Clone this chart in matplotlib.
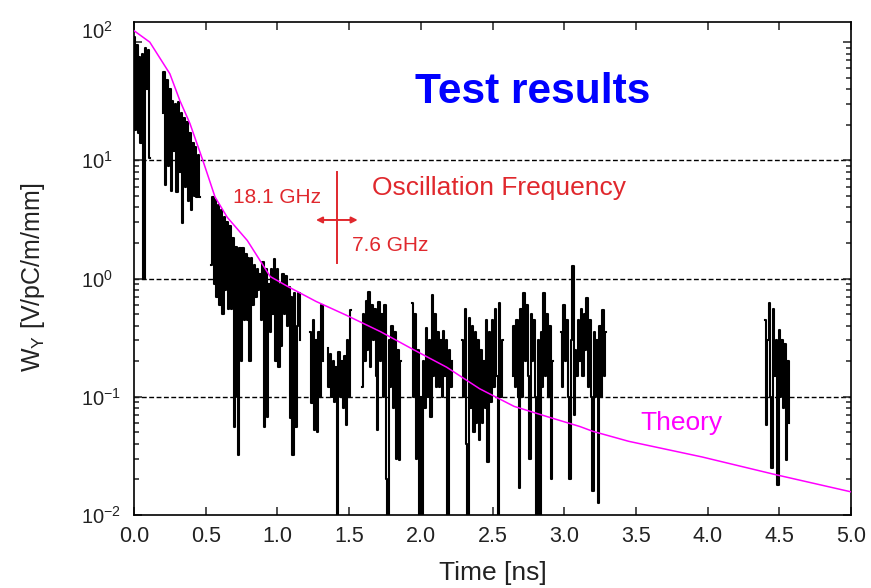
import numpy as np
import matplotlib
matplotlib.use("Agg")
import matplotlib.pyplot as plt
from matplotlib.ticker import FixedLocator, LogLocator, NullFormatter, FixedFormatter
from matplotlib.transforms import ScaledTranslation

plt.rcParams['font.family'] = ['Liberation Sans', 'DejaVu Sans']
plt.rcParams['mathtext.fontset'] = 'custom'
plt.rcParams['mathtext.rm'] = 'Liberation Sans'
plt.rcParams['mathtext.it'] = 'Liberation Sans:italic'
plt.rcParams['mathtext.default'] = 'regular'

# measured wake, sampled every 10 ps; each burst is a run of positive samples
DT = 0.01
burst_a_t0 = 0.00
burst_a = [110, 18, 95, 17, 75, 14, 80, 1.0, 90, 40, 85, 10.5]
burst_b_t0 = 0.20
burst_b = [25, 56, 6.2, 48, 9, 40, 5.5, 32, 12, 30, 5.4, 31, 8, 25, 2.95, 23, 6,
           21, 4.5, 17, 3.8, 14, 5, 13, 4.9, 11, 4.9]
burst_c_t0 = 0.54
burst_c = [1.3, 4.9, 0.9, 4.6, 0.7, 4.2, 0.6, 3.8, 0.5, 3.3, 0.8, 3.0, 0.55, 2.8,
           0.55, 2.2, 0.056, 1.85, 0.1, 0.032, 1.8, 0.2, 1.8, 0.45, 1.6, 0.45, 1.5,
           0.2, 1.5, 0.6, 1.3, 0.7, 1.2, 0.8, 1.1, 0.45, 1.37, 0.056, 1.2, 0.067,
           0.9, 0.35, 1.2, 0.5, 1.45, 0.2, 1.2, 0.18, 0.9, 0.27, 1.1, 0.5, 1.05,
           0.4, 0.85, 0.066, 0.7, 0.032, 0.75, 0.055, 0.4, 0.75, 0.3]
burst_d_t0 = 1.23
burst_d = [0.35, 0.088, 0.45, 0.052, 0.3, 0.05, 0.35, 0.1, 0.6, 0.2]
burst_e_t0 = 1.35
burst_e = [0.26, 0.12, 0.23, 0.1, 0.2, 0.09, 0.18, 0.005, 0.24, 0.1, 0.2, 0.08,
           0.22, 0.058, 0.3, 0.1, 0.54]
burst_f_t0 = 1.59
burst_f = [0.12, 0.5, 0.2, 0.65, 0.25, 0.77, 0.18, 0.6, 0.3, 0.55, 0.15, 0.052,
           0.63, 0.2, 0.5, 0.1, 0.6, 0.02, 0.005, 0.3, 0.12, 0.4, 0.08, 0.35,
           0.03, 0.25, 0.029, 0.2]
burst_g_t0 = 1.94
burst_g = [0.62, 0.1, 0.5, 0.03, 0.25, 0.005, 0.1, 0.006, 0.2, 0.08, 0.38, 0.1,
           0.3, 0.067, 0.72, 0.15, 0.5, 0.12, 0.35, 0.12, 0.3, 0.1, 0.36, 0.15,
           0.3, 0.005, 0.25, 0.12, 0.2]
burst_h_t0 = 2.29
burst_h = [0.3, 0.1, 0.55, 0.04, 0.005, 0.46, 0.08, 0.4, 0.05, 0.35, 0.06, 0.3,
           0.043, 0.25, 0.06, 0.2, 0.08, 0.45, 0.028, 0.35, 0.09, 0.45, 0.12,
           0.55, 0.15, 0.005, 0.62, 0.1, 0.3]
burst_i_t0 = 2.64
burst_i = [0.15, 0.4, 0.12, 0.45, 0.1, 0.017, 0.55, 0.1, 0.75, 0.2, 0.6, 0.15,
           0.03, 0.5, 0.2, 0.45, 0.1, 0.005, 0.3, 0.006, 0.35, 0.12, 0.75, 0.15,
           0.5, 0.1, 0.4, 0.02, 0.2]
burst_j_t0 = 2.98
burst_j = [0.35, 0.12, 0.6, 0.2, 0.45, 0.1, 0.02, 0.3, 1.27, 0.07, 0.25, 0.15,
           0.45, 0.2, 0.55, 0.15, 0.5, 0.25, 0.68, 0.12, 0.45, 0.1, 0.016, 0.35,
           0.1, 0.3, 0.0126, 0.4, 0.1, 0.54, 0.15, 0.35]
burst_k_t0 = 4.40
burst_k = [0.45, 0.058, 0.3, 0.62, 0.1, 0.025, 0.55, 0.15, 0.3, 0.018, 0.37, 0.1,
           0.3, 0.08, 0.28, 0.029, 0.2, 0.06]

bursts = [(burst_a_t0, burst_a), (burst_b_t0, burst_b), (burst_c_t0, burst_c),
          (burst_d_t0, burst_d), (burst_e_t0, burst_e), (burst_f_t0, burst_f),
          (burst_g_t0, burst_g), (burst_h_t0, burst_h), (burst_i_t0, burst_i),
          (burst_j_t0, burst_j), (burst_k_t0, burst_k)]

# analytic wake
theory_t = [0.0, 0.11, 0.25, 0.32, 0.39, 0.48, 0.565, 0.65, 0.79, 0.95, 1.07,
            1.27, 1.48, 1.72, 1.95, 2.18, 2.41, 2.65, 2.88, 3.11, 3.20, 3.45,
            3.96, 4.47, 5.0]
theory_w = [125, 100, 54, 32, 20.5, 10, 4.9, 3.3, 2.1, 1.04, 0.86, 0.64, 0.49,
            0.355, 0.25, 0.178, 0.117, 0.083, 0.068, 0.056, 0.051, 0.042, 0.031,
            0.022, 0.0157]

grid_levels = [10, 1, 0.1]
x_ticks = [0.0, 0.5, 1.0, 1.5, 2.0, 2.5, 3.0, 3.5, 4.0, 4.5, 5.0]
x_ticklabels = ['0.0', '0.5', '1.0', '1.5', '2.0', '2.5', '3.0', '3.5', '4.0', '4.5', '5.0']
y_ticks = [1e-2, 1e-1, 1e0, 1e1, 1e2]
y_ticklabels = [r'$10^{-2}$', r'$10^{-1}$', r'$10^{0}$', r'$10^{1}$', r'$10^{2}$']

RED = '#e0282d'
MAGENTA = '#ff00ff'

fig = plt.figure(figsize=(8.71, 5.88), dpi=100)
ax = fig.add_axes([134 / 871, 1 - 515 / 588, 717 / 871, 493 / 588])
ax.set_yscale('log')
ax.set_xlim(0, 5.0)
ax.set_ylim(1e-2, 148)

for lvl in grid_levels:
    ax.axhline(lvl, color='black', lw=1.0, ls=(0, (3.5, 1.8)), zorder=1)

for t0, vals in bursts:
    t = t0 + DT * np.arange(len(vals))
    ax.plot(t, vals, drawstyle='steps-mid', color='black', lw=1.5, zorder=2)

ax.plot(theory_t, theory_w, color=MAGENTA, lw=1.1, zorder=3)

# axes styling
for sp in ax.spines.values():
    sp.set_linewidth(1.2)
ax.xaxis.set_major_locator(FixedLocator(x_ticks))
ax.xaxis.set_major_formatter(FixedFormatter(x_ticklabels))
ax.xaxis.set_minor_locator(FixedLocator([]))
ax.yaxis.set_major_locator(FixedLocator(y_ticks))
ax.yaxis.set_major_formatter(FixedFormatter(y_ticklabels))
ax.yaxis.set_minor_locator(LogLocator(base=10, subs=np.arange(2, 10), numticks=20))
ax.yaxis.set_minor_formatter(NullFormatter())
ax.tick_params(which='both', direction='in', top=True, right=True, width=1.1,
               colors='#222222')
ax.tick_params(which='major', length=6)
ax.tick_params(which='minor', length=3.5)
ax.tick_params(axis='x', labelsize=15.5, pad=8)
ax.tick_params(axis='y', labelsize=14.5, pad=38.5)
for lab in ax.get_yticklabels():
    lab.set_horizontalalignment('left')
ytl = ax.get_yticklabels()
ytl[-1].set_transform(ytl[-1].get_transform() + ScaledTranslation(0, 12 / 100, fig.dpi_scale_trans))

ax.set_xlabel('Time [ns]', fontsize=19, color='#222222', labelpad=10)
ax.set_ylabel(r'W$_{Y}$ [V/pC/m/mm]', fontsize=18, color='#222222')
ax.yaxis.set_label_coords(-0.121, 0.482)

# annotations
ax.text(1.96, 30.3, 'Test results', color='#0000ff', fontsize=30.5,
        fontweight='bold', ha='left', va='baseline')
ax.text(1.66, 5.08, 'Oscillation Frequency', color=RED, fontsize=19,
        ha='left', va='baseline')
ax.text(0.69, 4.37, '18.1 GHz', color=RED, fontsize=15, ha='left', va='baseline')
ax.text(1.518, 1.72, '7.6 GHz', color=RED, fontsize=15, ha='left', va='baseline')
ax.plot([1.413, 1.413], [8.0, 1.35], color=RED, lw=1.4, zorder=4)
ax.annotate('', xy=(1.269, 3.13), xytext=(1.56, 3.13),
            arrowprops=dict(arrowstyle='<|-|>', color=RED, lw=1.4,
                            mutation_scale=9, shrinkA=0, shrinkB=0), zorder=4)
ax.text(3.53, 0.052, 'Theory', color=MAGENTA, fontsize=19, ha='left', va='baseline')

fig.savefig('out.png', dpi=100)
